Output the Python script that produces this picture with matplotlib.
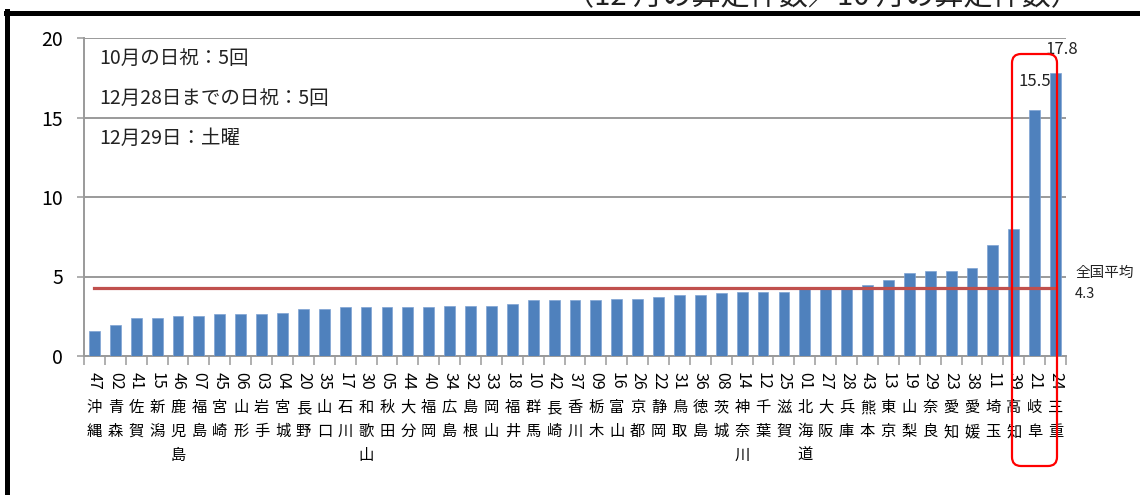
import numpy as np
import matplotlib.pyplot as plt
from matplotlib.patches import FancyBboxPatch
from matplotlib.lines import Line2D
from matplotlib.transforms import IdentityTransform

plt.rcParams['font.family'] = ['Noto Sans CJK JP', 'DejaVu Sans']

# prefecture codes and names, sorted by ratio (Dec count / Oct count)
codes = ['47', '02', '41', '15', '46', '07', '45', '06', '03', '04', '20', '35',
         '17', '30', '05', '44', '40', '34', '32', '33', '18', '10', '42', '37',
         '09', '16', '26', '22', '31', '36', '08', '14', '12', '25', '01', '27',
         '28', '43', '13', '19', '29', '23', '38', '11', '39', '21', '24']
names = ['沖縄', '青森', '佐賀', '新潟', '鹿児島', '福島', '宮崎', '山形', '岩手', '宮城',
         '長野', '山口', '石川', '和歌山', '秋田', '大分', '福岡', '広島', '島根', '岡山',
         '福井', '群馬', '長崎', '香川', '栃木', '富山', '京都', '静岡', '鳥取', '徳島',
         '茨城', '神奈川', '千葉', '滋賀', '北海道', '大阪', '兵庫', '熊本', '東京', '山梨',
         '奈良', '愛知', '愛媛', '埼玉', '高知', '岐阜', '三重']
ratios = [1.60, 1.92, 2.38, 2.38, 2.51, 2.51, 2.62, 2.62, 2.62, 2.72, 2.95, 2.95,
          3.08, 3.08, 3.08, 3.08, 3.08, 3.15, 3.14, 3.14, 3.27, 3.50, 3.50, 3.50,
          3.50, 3.61, 3.61, 3.71, 3.84, 3.84, 3.95, 4.05, 4.05, 4.05, 4.22, 4.22,
          4.25, 4.44, 4.78, 5.22, 5.35, 5.35, 5.56, 6.99, 8.0, 15.5, 17.8]
national_avg = 4.3
notes = ['10月の日祝：5回', '12月28日までの日祝：5回', '12月29日：土曜']
title = '（12 月の算定件数／10 月の算定件数）'

fig = plt.figure(figsize=(11.4, 4.95), dpi=100)
ax = fig.add_axes([84 / 1140, 139 / 495, 982 / 1140, 318 / 495])

x = np.arange(len(ratios))
ax.bar(x, ratios, width=0.52, color='#4F81BD', edgecolor='#7FA3D3', linewidth=0.5, zorder=3)

# national average line
ax.plot([x[0], x[-1]], [national_avg, national_avg], color='#C0504D', lw=2.3, zorder=4)
ax.annotate('全国平均\n' + str(national_avg), xy=(x[-1] + 0.5, national_avg),
            xytext=(9, 4), textcoords='offset pixels', ha='left', va='center',
            fontsize=10.5, linespacing=1.6, color='#222222')

# value labels for the two highest
ax.annotate(f'{ratios[-1]}', xy=(x[-1], ratios[-1]), xytext=(6, 23),
            textcoords='offset pixels', ha='center', va='center', fontsize=12, color='#222222')
ax.annotate(f'{ratios[-2]}', xy=(x[-2], ratios[-2]), xytext=(0, 28),
            textcoords='offset pixels', ha='center', va='center', fontsize=12, color='#222222')

ax.set_xlim(-0.5, len(ratios) - 0.5)
ax.set_ylim(0, 20)
ax.set_yticks([0, 5, 10, 15, 20])
ax.yaxis.grid(True, color='#9a9a9a', lw=1.4, zorder=0)
ax.set_axisbelow(True)
for s in ['top', 'right']:
    ax.spines[s].set_visible(False)
for s in ['left', 'bottom']:
    ax.spines[s].set_color('#9a9a9a')
    ax.spines[s].set_linewidth(1.4)
ax.tick_params(axis='y', length=5, width=1.1, color='#9a9a9a', pad=10, labelsize=14)

# category ticks sit between bars
ax.set_xticks(np.arange(-0.5, len(ratios), 1.0), minor=True)
ax.set_xticks([])
ax.tick_params(axis='x', which='minor', length=6.5, width=1.1, color='#9a9a9a')

# vertical labels: sideways code, upright kanji
for i, (c, n) in enumerate(zip(codes, names)):
    ax.annotate(c, xy=(i, 0), xycoords=('data', 'axes fraction'), xytext=(0, -16),
                textcoords='offset pixels', rotation=-90, ha='center', va='top', fontsize=11.5)
    ax.annotate('\n'.join(n), xy=(i, 0), xycoords=('data', 'axes fraction'), xytext=(0, -43),
                textcoords='offset pixels', ha='center', va='top', fontsize=11, linespacing=1.55)

# notes in upper left
for k, t in enumerate(notes):
    ax.text(0.016, 0.935 - k * 0.126, t, transform=ax.transAxes, ha='left', va='center',
            fontsize=14, color='#222222')

# red rounded box around 高知/岐阜
box = FancyBboxPatch((1012, 29), 45, 412, boxstyle='round,pad=0,rounding_size=9',
                     transform=IdentityTransform(), fill=False, edgecolor='#FF0000', lw=1.6,
                     zorder=10)
fig.patches.append(box)

# black frame and clipped title at the top
fig.lines.append(Line2D([6 / 1140, 1], [482 / 495, 482 / 495], transform=fig.transFigure,
                        color='black', lw=3.6))
fig.lines.append(Line2D([6.5 / 1140, 6.5 / 1140], [0, 484 / 495], transform=fig.transFigure,
                        color='black', lw=3.6))
fig.text(822 / 1140, 1.006, title, ha='center', va='center', fontsize=21, color='#222222')

fig.savefig('out.png', dpi=100)
